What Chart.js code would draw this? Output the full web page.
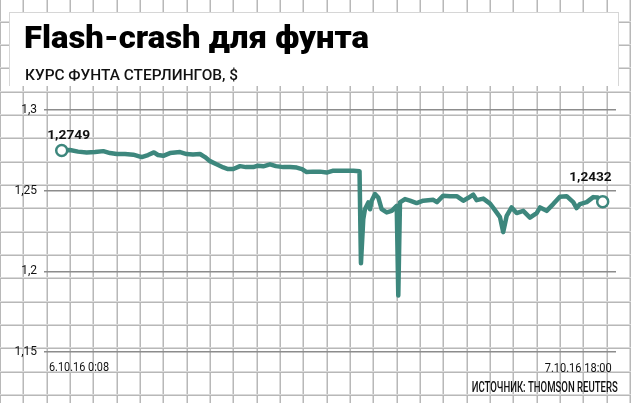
<!DOCTYPE html>
<html><head><meta charset="utf-8">
<script src="https://cdn.jsdelivr.net/npm/chart.js@4.4.1/dist/chart.umd.min.js"></script>
<style>html,body{margin:0;padding:0;background:#fff;}canvas{display:block;}</style>
</head><body>
<canvas id="c" width="631" height="403"></canvas>
<script>
const titleText = 'Flash-crash для фунта';
const subtitleText = 'КУРС ФУНТА СТЕРЛИНГОВ, $';
const sourceText = 'ИСТОЧНИК: THOMSON REUTERS';
const xLabels = ['6.10.16 0:08', '7.10.16 18:00'];
const yTicks = [1.15, 1.2, 1.25, 1.3];
const startLabel = '1,2749';
const endLabel = '1,2432';

// hours since 6.10.16 0:08
const hours = [0,0.64,1.26,1.93,2.58,3.22,3.74,4.26,4.90,5.54,6.19,6.68,7.14,7.45,7.86,8.38,9.16,9.67,10.16,10.70,
11.09,11.48,11.94,12.51,12.87,13.28,13.80,14.26,14.83,15.19,15.60,16.12,16.58,17.15,17.67,18.19,18.60,18.96,19.45,19.99,
20.51,21.02,21.79,22.57,23.05,23.16,23.34,23.47,23.73,23.86,23.99,24.25,24.50,24.76,25.15,25.54,25.93,26.05,26.18,26.57,
26.95,27.47,27.98,28.76,29.04,29.53,30.05,30.57,31.08,31.44,31.85,32.12,32.63,33.15,33.53,33.92,34.17,34.44,34.82,35.21,
35.72,36.24,36.76,37.02,37.53,38.04,38.56,39.08,39.59,39.85,40.11,40.63,41.14,41.50,41.87];
// GBP/USD
const rates = [1.2749,1.2752,1.2742,1.2737,1.2739,1.2745,1.2733,1.2727,1.2727,1.2723,1.2708,1.2721,1.2737,1.2721,1.2716,1.2733,1.2739,1.2727,1.2724,1.2727,
1.2708,1.2683,1.2665,1.2644,1.2634,1.2634,1.2652,1.2646,1.2646,1.2655,1.2651,1.2663,1.2652,1.2646,1.2646,1.2643,1.2634,1.2615,1.2618,1.2618,
1.2612,1.2624,1.2624,1.2624,1.2621,1.2050,1.2323,1.2385,1.2427,1.2385,1.2437,1.2479,1.2458,1.2385,1.2365,1.2375,1.2406,1.1850,1.2427,1.2448,
1.2438,1.2423,1.2438,1.2443,1.2429,1.2469,1.2466,1.2466,1.2438,1.2454,1.2475,1.2441,1.2451,1.2420,1.2379,1.2336,1.2243,1.2344,1.2396,1.2361,
1.2375,1.2333,1.2361,1.2396,1.2375,1.2417,1.2463,1.2466,1.2429,1.2392,1.2417,1.2429,1.2460,1.2457,1.2432];

const TEAL = '#3d877d';

function fitText(ctx, text, x, y, font, width, align, color) {
  ctx.save();
  ctx.font = font;
  ctx.fillStyle = color || '#111';
  const w = ctx.measureText(text).width;
  const s = width / w;
  const x0 = align === 'right' ? x - width : x;
  ctx.translate(x0, y);
  ctx.scale(s, 1);
  ctx.textAlign = 'left';
  ctx.textBaseline = 'alphabetic';
  ctx.fillText(text, 0, 0);
  ctx.restore();
}

const backgroundPlugin = {
  id: 'paper',
  beforeDraw(chart) {
    const ctx = chart.ctx, W = chart.width, H = chart.height;
    ctx.save();
    ctx.fillStyle = '#fff';
    ctx.fillRect(0, 0, W, H);
    const step = 23.33;
    for (let k = 0; k * step <= W + 1; k++) {
      const x = Math.round(k * step);
      ctx.fillStyle = '#dadada'; ctx.fillRect(x - 1, 0, 2, H);
      ctx.fillStyle = '#b8b8b8'; ctx.fillRect(x, 0, 1, H);
    }
    for (let k = 1; k * step - 2 <= H + 1; k++) {
      const y = Math.round(k * step - 1.5);
      ctx.fillStyle = '#dadada'; ctx.fillRect(0, y - 1, W, 2);
      ctx.fillStyle = '#b8b8b8'; ctx.fillRect(0, y, W, 1);
    }
    ctx.fillStyle = '#d6d6d6';
    ctx.fillRect(9, 12, 610, 74);
    ctx.fillStyle = '#fff';
    ctx.fillRect(10, 13, 608, 73);
    fitText(ctx, titleText, 24, 48, '900 31px Roboto', 345, 'left', '#000');
    fitText(ctx, subtitleText, 25, 80, '500 15px Roboto', 213, 'left', '#111');
    ctx.restore();
  },
  afterDraw(chart) {
    const ctx = chart.ctx;
    const meta = chart.getDatasetMeta(0);
    const p0 = meta.data[0], pN = meta.data[meta.data.length - 1];
    fitText(ctx, startLabel, p0.x - 14.5, p0.y - 11.5, 'bold 13px Roboto', 43, 'left', '#111');
    fitText(ctx, endLabel, pN.x + 9, pN.y - 20.5, 'bold 13px Roboto', 42.5, 'right', '#111');
    fitText(ctx, xLabels[0], p0.x - 12.7, 371, '12px Roboto', 60, 'left', '#111');
    fitText(ctx, xLabels[1], pN.x + 9, 372, '12px Roboto', 67, 'right', '#111');
    fitText(ctx, sourceText, 617.7, 391.5, '500 14px Roboto', 146, 'right', '#111');
  }
};

const data = hours.map((h, i) => ({ x: h, y: rates[i] }));

new Chart(document.getElementById('c'), {
  type: 'line',
  data: {
    datasets: [{
      data: data,
      borderColor: TEAL,
      borderWidth: 4.5,
      borderJoinStyle: 'round',
      borderCapStyle: 'round',
      tension: 0,
      pointRadius: ctx => (ctx.dataIndex === 0 || ctx.dataIndex === hours.length - 1) ? 5.5 : 0,
      pointBackgroundColor: '#fff',
      pointBorderColor: TEAL,
      pointBorderWidth: 2.5,
      clip: false
    }]
  },
  options: {
    responsive: false,
    animation: false,
    events: [],
    layout: { padding: { top: 110, bottom: 51, left: 0, right: 15 } },
    plugins: { legend: { display: false }, tooltip: { enabled: false }, title: { display: false } },
    scales: {
      x: { type: 'linear', display: false, min: -1.37, max: 42.90 },
      y: {
        type: 'linear', min: 1.15, max: 1.3,
        afterFit(scale) { scale.width = 44; },
        afterBuildTicks(scale) { scale.ticks = yTicks.map(v => ({ value: v })); },
        border: { display: false },
        grid: { color: '#8c8c8c', lineWidth: 1.5, drawTicks: false, borderDash: [1.4, 1.4] },
        ticks: {
          padding: 7,
          color: '#111',
          font: { family: 'Roboto', size: 12 },
          callback: v => String(Math.round(v * 100) / 100).replace('.', ',')
        }
      }
    }
  },
  plugins: [backgroundPlugin]
});
</script>
</body></html>
